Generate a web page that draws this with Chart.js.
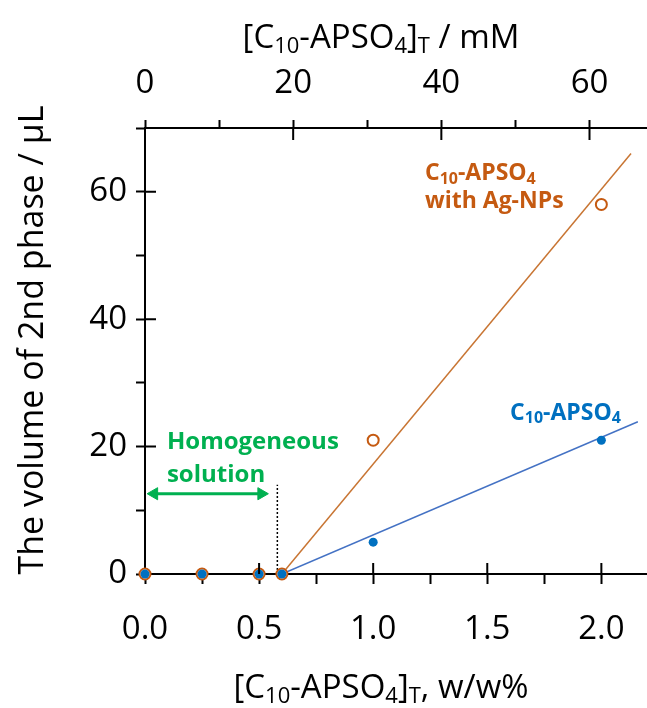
<!DOCTYPE html>
<html>
<head>
    <title>Volume of 2nd phase</title>
    <script src="https://cdn.jsdelivr.net/npm/chart.js"></script>
    <style>
        body {
            margin: 0;
            background: #fff;
        }
    </style>
</head>
<body>
    <canvas id="volChart" width="647" height="708"></canvas>
    <script>
        // data
        const conc = [0, 0.25, 0.5, 0.6, 1.0, 2.0];          // w/w%
        const volPlain = [0, 0, 0, 0, 5, 21];                  // uL, C10-APSO4
        const volAgNP = [0, 0, 0, 0, 21, 58];                  // uL, with Ag-NPs
        const fitPlainX = [0.6, 2.16];
        const fitPlainY = [0, 23.9];
        const fitAgX = [0.6, 2.13];
        const fitAgY = [0, 66];
        const cmcX = [0.58, 0.58];
        const cmcY = [0, 14];
        const arrowX = [0.04, 0.51];
        const arrowY = [12.6, 12.6];
        const mMPerWt = 30.8;   // top axis conversion
        const xMax = 2.2;
        const yMax = 70;

        const ORANGE = '#C55A11';
        const BLUE = '#0070C0';
        const GREEN = '#00B050';
        const FONT = "'Open Sans', sans-serif";

        Chart.defaults.font.family = FONT;
        Chart.defaults.font.size = 33;
        Chart.defaults.color = '#000';

        const pts = (xs, ys) => xs.map((x, i) => ({ x: x, y: ys[i] }));

        // text with subscripts; parts = [text, isSub]
        function drawRich(ctx, parts, x, y, size, weight, align) {
            const subSize = Math.round(size * 0.68);
            const widths = parts.map(([t, sub]) => {
                ctx.font = weight + ' ' + (sub ? subSize : size) + 'px ' + FONT;
                return ctx.measureText(t).width;
            });
            const total = widths.reduce((a, b) => a + b, 0);
            let cx = align === 'center' ? x - total / 2 : x;
            ctx.textAlign = 'left';
            ctx.textBaseline = 'alphabetic';
            parts.forEach(([t, sub], i) => {
                ctx.font = weight + ' ' + (sub ? subSize : size) + 'px ' + FONT;
                ctx.fillText(t, cx, sub ? y + size * 0.16 : y);
                cx += widths[i];
            });
        }

        const decor = {
            id: 'decor',
            afterDraw(chart) {
                const ctx = chart.ctx;
                const sx = chart.scales.x, sy = chart.scales.y, st = chart.scales.x2;
                ctx.save();
                // inward part of the major ticks
                ctx.strokeStyle = '#000';
                ctx.lineWidth = 2;
                ctx.beginPath();
                [0.5, 1.0, 1.5, 2.0].forEach(v => {
                    const px = sx.getPixelForValue(v);
                    ctx.moveTo(px, sy.bottom); ctx.lineTo(px, sy.bottom - 11);
                });
                [20, 40, 60].forEach(v => {
                    const py = sy.getPixelForValue(v);
                    ctx.moveTo(sx.left, py); ctx.lineTo(sx.left + 11, py);
                });
                [20, 40, 60].forEach(v => {
                    const px = st.getPixelForValue(v);
                    ctx.moveTo(px, sy.top); ctx.lineTo(px, sy.top + 12);
                });
                ctx.stroke();

                // axis titles
                ctx.fillStyle = '#000';
                drawRich(ctx, [['[C', 0], ['10', 1], ['-APSO', 0], ['4', 1], [']', 0], ['T', 1], [' / mM', 0]],
                    381, 48, 33, 'normal', 'center');
                drawRich(ctx, [['[C', 0], ['10', 1], ['-APSO', 0], ['4', 1], [']', 0], ['T', 1], [', w/w%', 0]],
                    381, 698, 33, 'normal', 'center');
                ctx.save();
                ctx.translate(43, 340);
                ctx.rotate(-Math.PI / 2);
                ctx.font = '34px ' + FONT;
                ctx.textAlign = 'center';
                ctx.textBaseline = 'alphabetic';
                ctx.fillText('The volume of 2nd phase / \u03bcL', 0, 0);
                ctx.restore();

                // series labels
                const X = v => sx.getPixelForValue(v), Y = v => sy.getPixelForValue(v);
                ctx.fillStyle = ORANGE;
                drawRich(ctx, [['C', 0], ['10', 1], ['-APSO', 0], ['4', 1]], X(1.227), Y(61.8), 23, 'bold', 'left');
                drawRich(ctx, [['with Ag-NPs', 0]], X(1.227), Y(57.4), 23, 'bold', 'left');
                ctx.fillStyle = BLUE;
                drawRich(ctx, [['C', 0], ['10', 1], ['-APSO', 0], ['4', 1]], X(1.6), Y(24.2), 23, 'bold', 'left');
                ctx.fillStyle = GREEN;
                drawRich(ctx, [['Homogeneous', 0]], X(0.096), Y(19.6), 24, 'bold', 'left');
                drawRich(ctx, [['solution', 0]], X(0.096), Y(14.4), 24, 'bold', 'left');
                ctx.restore();
            }
        };

        new Chart(document.getElementById('volChart'), {
            type: 'scatter',
            data: {
                datasets: [
                    {
                        label: 'C10-APSO4',
                        data: pts(conc, volPlain),
                        pointRadius: 4.5,
                        pointBackgroundColor: BLUE,
                        pointBorderWidth: 0,
                        clip: false,
                        order: 0
                    },
                    {
                        label: 'C10-APSO4 with Ag-NPs',
                        data: pts(conc, volAgNP),
                        pointRadius: 5.5,
                        pointBackgroundColor: '#fff',
                        pointBorderColor: ORANGE,
                        pointBorderWidth: 2,
                        clip: false,
                        order: 1
                    },
                    {
                        data: pts(fitAgX, fitAgY),
                        showLine: true,
                        borderColor: '#C87533',
                        borderWidth: 1.5,
                        pointRadius: 0,
                        order: 2
                    },
                    {
                        data: pts(fitPlainX, fitPlainY),
                        showLine: true,
                        borderColor: '#4472C4',
                        borderWidth: 1.5,
                        pointRadius: 0,
                        order: 2
                    },
                    {
                        data: pts(cmcX, cmcY),
                        showLine: true,
                        borderColor: '#000',
                        borderWidth: 1.5,
                        borderDash: [2, 2],
                        pointRadius: 0,
                        order: 3
                    },
                    {
                        data: pts(arrowX, arrowY),
                        showLine: true,
                        borderColor: GREEN,
                        borderWidth: 3,
                        pointStyle: 'triangle',
                        pointRadius: 7,
                        pointBackgroundColor: GREEN,
                        pointBorderColor: GREEN,
                        pointBorderWidth: 1,
                        pointRotation: [270, 90],
                        order: 3
                    }
                ]
            },
            options: {
                responsive: false,
                animation: false,
                layout: { padding: 0, autoPadding: false },
                plugins: {
                    legend: { display: false },
                    tooltip: { enabled: false }
                },
                scales: {
                    x: {
                        type: 'linear',
                        position: 'bottom',
                        min: 0,
                        max: xMax,
                        afterFit: s => { s.height = 134; },
                        border: { color: '#000', width: 2 },
                        grid: { drawOnChartArea: false, tickLength: 10, tickColor: '#000', tickWidth: 2 },
                        ticks: {
                            stepSize: 0.25,
                            includeBounds: false,
                            autoSkip: false,
                            maxRotation: 0,
                            padding: 4,
                            font: { lineHeight: 2.54 },
                            callback: v => Math.round(v * 100) % 50 === 0 ? v.toFixed(1) : ''
                        }
                    },
                    x2: {
                        type: 'linear',
                        position: 'top',
                        min: 0,
                        max: xMax * mMPerWt,
                        afterFit: s => { s.height = 128; },
                        border: { color: '#000', width: 2 },
                        grid: { drawOnChartArea: false, tickLength: 8, tickColor: '#000', tickWidth: 2 },
                        ticks: {
                            stepSize: 10,
                            includeBounds: false,
                            autoSkip: false,
                            maxRotation: 0,
                            padding: 17,
                            callback: v => v % 20 === 0 ? v : ''
                        }
                    },
                    y: {
                        min: 0,
                        max: yMax,
                        afterFit: s => { s.width = 145; },
                        border: { color: '#000', width: 2 },
                        grid: { drawOnChartArea: false, tickLength: 9, tickColor: '#000', tickWidth: 2 },
                        ticks: {
                            stepSize: 10,
                            includeBounds: false,
                            padding: 9,
                            callback: v => v % 20 === 0 ? v : ''
                        }
                    }
                }
            },
            plugins: [decor]
        });
    </script>
</body>
</html>
